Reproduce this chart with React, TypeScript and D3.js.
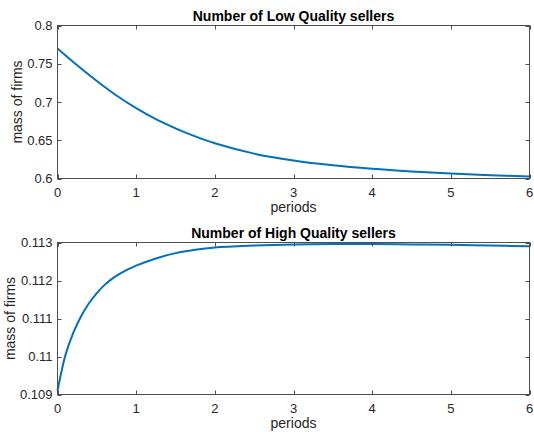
import React from "react";
import * as d3 from "d3";

const lowT = [0, 0.25, 0.5, 0.75, 1, 1.25, 1.5, 1.75, 2, 2.5, 3, 3.5, 4, 4.5, 5, 5.5, 6];
const lowV = [0.77, 0.748, 0.7275, 0.7085, 0.692, 0.6775, 0.6655, 0.655, 0.646, 0.6325, 0.6235, 0.6172, 0.6127, 0.6093, 0.6066, 0.6044, 0.6025];

const highT = [0, 0.05, 0.1, 0.2, 0.3, 0.4, 0.5, 0.6, 0.7, 0.8, 1, 1.25, 1.5, 1.75, 2, 2.5, 3, 3.5, 4, 4.5, 5, 5.5, 6];
const highV = [0.1091, 0.1096, 0.11003, 0.11062, 0.11106, 0.1114, 0.11167, 0.111885, 0.112055, 0.11219, 0.11239, 0.11258, 0.11272, 0.11281, 0.11287, 0.11292, 0.11295, 0.11296, 0.11296, 0.11295, 0.11294, 0.11292, 0.1129];

const xTicks = [0, 1, 2, 3, 4, 5, 6];
const lowTicks = [0.6, 0.65, 0.7, 0.75, 0.8];
const highTicks = [0.109, 0.11, 0.111, 0.112, 0.113];

const W = 534;
const H = 437;
const LEFT = 57.5;
const RIGHT = 529.5;
const FONT = "'Liberation Sans', Arial, Helvetica, sans-serif";
const AX = "#262626";
const BOX = "#4d4d4d";

function Panel({ top, bottom, title, ts, vs, yDomain, yTicks, fmt, yLabelX }: any) {
  const x = d3.scaleLinear().domain([0, 6]).range([LEFT, RIGHT]);
  const y = d3.scaleLinear().domain(yDomain).range([bottom, top]);
  const pts = ts.map((t: number, i: number) => [t, vs[i]] as [number, number]);
  const line = d3
    .line<[number, number]>()
    .x((d) => x(d[0]))
    .y((d) => y(d[1]))
    .curve(d3.curveCatmullRom.alpha(0.5));
  const tl = 4;
  return (
    <g>
      <rect x={LEFT} y={top} width={RIGHT - LEFT} height={bottom - top} fill="#fff" />
      <path d={line(pts) || ""} fill="none" stroke="#0072BD" strokeWidth={2} />
      {xTicks.map((t) => (
        <g key={"x" + t}>
          <line x1={Math.round(x(t)) + 0.5} x2={Math.round(x(t)) + 0.5} y1={bottom} y2={bottom - tl} stroke={BOX} />
          <line x1={Math.round(x(t)) + 0.5} x2={Math.round(x(t)) + 0.5} y1={top} y2={top + tl} stroke={BOX} />
          <text x={x(t)} y={bottom + 18} textAnchor="middle" fontSize={13} fill={AX} fontFamily={FONT}>
            {t}
          </text>
        </g>
      ))}
      {yTicks.map((v: number) => (
        <g key={"y" + v}>
          <line x1={LEFT} x2={LEFT + tl} y1={Math.round(y(v)) + 0.5} y2={Math.round(y(v)) + 0.5} stroke={BOX} />
          <line x1={RIGHT} x2={RIGHT - tl} y1={Math.round(y(v)) + 0.5} y2={Math.round(y(v)) + 0.5} stroke={BOX} />
          <text x={LEFT - 5} y={y(v) + 4.6} textAnchor="end" fontSize={13} fill={AX} fontFamily={FONT}>
            {fmt(v)}
          </text>
        </g>
      ))}
      <rect x={LEFT} y={top} width={RIGHT - LEFT} height={bottom - top} fill="none" stroke={BOX} strokeWidth={1} />
      <text x={(LEFT + RIGHT) / 2} y={top - 5} textAnchor="middle" fontSize={14} fontWeight="bold" fill="#000" fontFamily={FONT}>
        {title}
      </text>
      <text x={(LEFT + RIGHT) / 2} y={bottom + 33} textAnchor="middle" fontSize={14} fill={AX} fontFamily={FONT}>
        periods
      </text>
      <text
        transform={`translate(${yLabelX},${(top + bottom) / 2}) rotate(-90)`}
        textAnchor="middle"
        fontSize={14}
        fill={AX}
        fontFamily={FONT}
      >
        mass of firms
      </text>
    </g>
  );
}

export default function App() {
  const fmtLow = (v: number) => String(+v.toFixed(2));
  const fmtHigh = (v: number) => String(+v.toFixed(3));
  return (
    <svg width={W} height={H} style={{ position: "absolute", left: 0, top: 0, background: "#fff" }}>
      <rect width={W} height={H} fill="#fff" />
      <Panel
        top={25.5}
        bottom={178.5}
        title="Number of Low Quality sellers"
        ts={lowT}
        vs={lowV}
        yDomain={[0.6, 0.8]}
        yTicks={lowTicks}
        fmt={fmtLow}
        yLabelX={21.5}
      />
      <Panel
        top={242.5}
        bottom={394.5}
        title="Number of High Quality sellers"
        ts={highT}
        vs={highV}
        yDomain={[0.109, 0.113]}
        yTicks={highTicks}
        fmt={fmtHigh}
        yLabelX={15}
      />
    </svg>
  );
}
